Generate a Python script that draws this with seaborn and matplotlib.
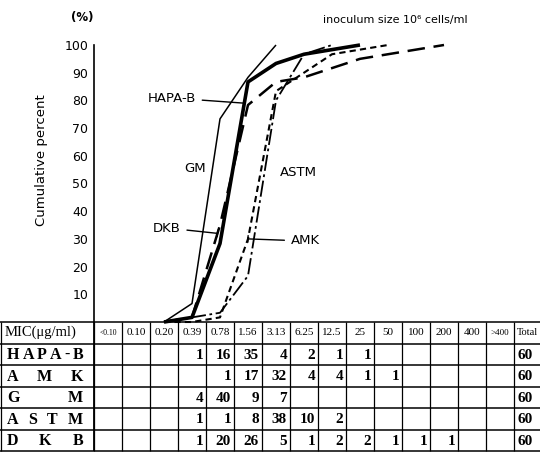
import numpy as np
import pandas as pd
import matplotlib
matplotlib.use("Agg")
import matplotlib.pyplot as plt
from matplotlib.patches import ArrowStyle
import seaborn as sns

# ---------------- data ----------------
mic_labels = ["<0.10", "0.10", "0.20", "0.39", "0.78", "1.56", "3.13",
              "6.25", "12.5", "25", "50", "100", "200", "400", ">400"]
drugs = ["HAPA-B", "AMK", "GM", "ASTM", "DKB"]
hapab_counts = [0, 0, 0, 1, 16, 35, 4, 2, 1, 1, 0, 0, 0, 0, 0]
amk_counts = [0, 0, 0, 0, 1, 17, 32, 4, 4, 1, 1, 0, 0, 0, 0]
gm_counts = [0, 0, 0, 4, 40, 9, 7, 0, 0, 0, 0, 0, 0, 0, 0]
astm_counts = [0, 0, 0, 1, 1, 8, 38, 10, 2, 0, 0, 0, 0, 0, 0]
dkb_counts = [0, 0, 0, 1, 20, 26, 5, 1, 2, 2, 1, 1, 1, 0, 0]
totals = [60, 60, 60, 60, 60]
y_ticks = [10, 20, 30, 40, 50, 60, 70, 80, 90, 100]
curve_start = 2  # curves start at 0 % in the 0.20 column

counts = dict(zip(drugs, [hapab_counts, amk_counts, gm_counts, astm_counts, dkb_counts]))
total_of = dict(zip(drugs, totals))

rows = []
for d in drugs:
    c = np.array(counts[d], dtype=float)
    cum = np.cumsum(c) / total_of[d] * 100.0
    end = int(np.argmax(cum >= 100.0 - 1e-9))
    for i in range(curve_start, end + 1):
        rows.append({"drug": d, "x": i, "pct": cum[i]})
df = pd.DataFrame(rows)

# ---------------- figure ----------------
sns.set_theme(style="white")
plt.rcParams["font.family"] = ["DejaVu Sans"]
W, H = 540, 454
fig = plt.figure(figsize=(W / 100, H / 100), dpi=100)

col_w = 28.0
mic_w = 94.0
x_right = (W - mic_w) / col_w - 0.5
top_px, bot_px = 45.0, 322.0

ax = fig.add_axes([mic_w / W, (H - bot_px) / H, (W - mic_w) / W, (bot_px - top_px) / H])
ax.set_xlim(-0.5, x_right)
ax.set_ylim(0, 100)
ax.set_facecolor("none")
for s in ["top", "right", "bottom"]:
    ax.spines[s].set_visible(False)
ax.spines["left"].set_color("black")
ax.spines["left"].set_linewidth(1.2)
ax.set_xticks([])
ax.set_yticks(y_ticks)
ax.set_yticklabels([str(t) for t in y_ticks], family=["Liberation Sans Narrow", "DejaVu Sans"])
ax.tick_params(axis="y", direction="in", length=4, width=1, pad=4, labelsize=9, colors="black")

styles = {
    "HAPA-B": dict(lw=2.6, ls="-"),
    "GM": dict(lw=1.1, ls="-"),
    "DKB": dict(lw=1.8, ls=(0, (7, 3.5))),
    "AMK": dict(lw=1.5, ls=(0, (3, 2))),
    "ASTM": dict(lw=1.3, ls=(0, (9, 2, 1.5, 2))),
}
for d in drugs:
    sub = df[df["drug"] == d]
    n_before = len(ax.lines)
    sns.lineplot(data=sub, x="x", y="pct", ax=ax, color="black",
                 linewidth=styles[d]["lw"], estimator=None, sort=False, legend=False)
    for ln in ax.lines[n_before:]:
        ln.set_linestyle(styles[d]["ls"])
        ln.set_clip_on(False)
        ln.set_solid_capstyle("butt")
ax.set_xlabel("")
ax.set_ylabel("")


def px2data(px, py):
    return (px - mic_w) / col_w - 0.5, (bot_px - py) / (bot_px - top_px) * 100.0


def point_on(d, pct):
    sub = df[df["drug"] == d]
    return float(np.interp(pct, sub["pct"].values, sub["x"].values)), pct


label_font = dict(fontsize=9.5, family=["DejaVu Sans"], color="black")
bar = ArrowStyle("-[", widthB=0.25, lengthB=0.0)
for d, pct, tpx, tpy in [("HAPA-B", 79, 172, 98), ("DKB", 32, 167, 228), ("AMK", 30, 305, 241)]:
    ax.annotate(d, xy=point_on(d, pct), xytext=px2data(tpx, tpy), ha="center", va="center",
                arrowprops=dict(arrowstyle=bar, color="black", lw=1.0, shrinkA=2, shrinkB=0),
                annotation_clip=False, **label_font)
for d, tpx, tpy in [("GM", 195, 169), ("ASTM", 298, 172)]:
    ax.text(*px2data(tpx, tpy), d, ha="center", va="center", **label_font)

fig.text(82 / W, 1 - 17 / H, "(%)", ha="center", va="center", fontsize=8.5,
         fontweight="bold", color="black")
fig.text(323 / W, 1 - 20 / H, "inoculum size 10⁶ cells/ml", ha="left", va="center",
         fontsize=8, color="black")
fig.text(42 / W, 1 - 160 / H, "Cumulative percent", rotation=90, ha="center", va="center",
         fontsize=9.5, family=["Liberation Sans Narrow", "DejaVu Sans"], color="black")

# ---------------- table ----------------
t_top, t_bot = 322.0, 451.0
n_rows = len(drugs) + 1
tax = fig.add_axes([0, (H - t_bot) / H, 1, (t_bot - t_top) / H])
x_left = -0.5 - mic_w / col_w
tax.set_xlim(x_left, x_right)
tax.set_ylim(n_rows, 0)
tax.axis("off")

ncol = len(mic_labels)
v_edges = [x_left + 0.05] + [i - 0.5 for i in range(ncol + 1)]
tax.vlines(v_edges, 0, n_rows, color="black", lw=0.9, clip_on=False)
tax.vlines([-0.5], 0, n_rows, color="black", lw=1.3, clip_on=False)
tax.hlines(range(n_rows + 1), x_left, x_right, color="black", lw=1.1, clip_on=False)

serif = ["Liberation Serif", "DejaVu Serif"]
tax.text(x_left + 5 / col_w, 0.5, "MIC(μg/ml)", ha="left", va="center", fontsize=10.5,
         family=serif, color="black")
for i, lab in enumerate(mic_labels):
    fs = 5.5 if lab.startswith("<") else (6.5 if lab.startswith(">") else 8)
    tax.text(i, 0.5, lab, ha="center", va="center", fontsize=fs, family=serif, color="black")
tax.text((ncol - 0.5 + x_right) / 2, 0.5, "Total", ha="center", va="center", fontsize=7.5,
         family=serif, color="black")

# row labels: letters justified across the label cell with uniform gaps
renderer = fig.canvas.get_renderer()
lab_left_px, lab_right_px = 7.0, 83.0
for r, d in enumerate(drugs):
    y = r + 1.5
    texts = [tax.text(0, y + 0.04, ch, ha="left", va="center", fontsize=11.5,
                      fontweight="bold", family=serif, color="black") for ch in d]
    widths = [t.get_window_extent(renderer).width for t in texts]
    gap = (lab_right_px - lab_left_px - sum(widths)) / max(len(texts) - 1, 1)
    pos = lab_left_px
    for t, w in zip(texts, widths):
        t.set_x(x_left + pos / col_w)
        pos += w + gap
    for i, v in enumerate(counts[d]):
        if v:
            tax.text(i + 0.5 - 3 / col_w, y + 0.04, str(v), ha="right", va="center",
                     fontsize=11, fontweight="bold", family=serif, color="black")
    tax.text(ncol - 0.5 + 3 / col_w, y + 0.04, str(total_of[d]), ha="left", va="center",
             fontsize=11, fontweight="bold", family=serif, color="black")

fig.savefig("out.png", dpi=100, facecolor="white")
